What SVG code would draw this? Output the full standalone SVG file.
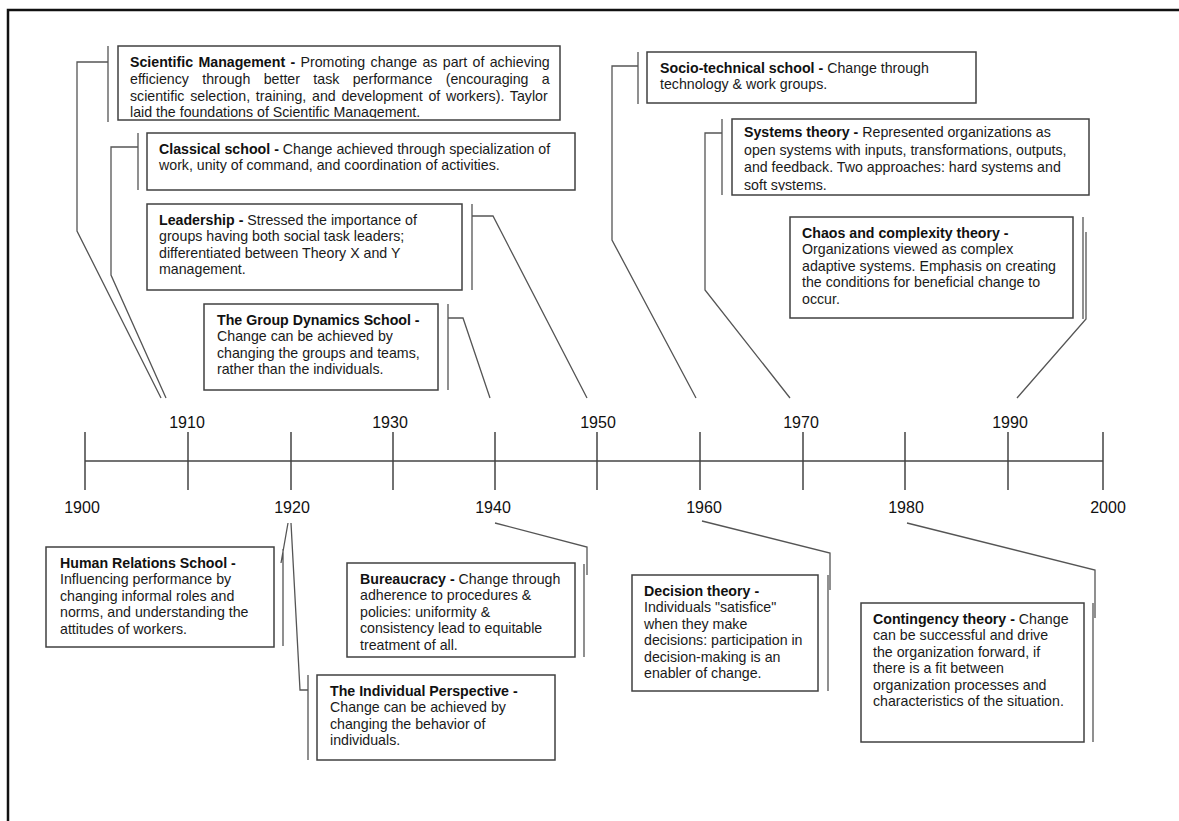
<svg xmlns="http://www.w3.org/2000/svg" width="1179" height="821" viewBox="0 0 1179 821">
  <style>
    .box{fill:#fff;stroke:#404040;stroke-width:1.5}
    .t{font-family:"Liberation Sans",Arial,Helvetica,sans-serif;font-size:14.2px;fill:#1a1a1a}
    .b{font-weight:bold;fill:#111}
    .yr{font-family:"Liberation Sans",Arial,Helvetica,sans-serif;font-size:16px;fill:#111;text-anchor:middle}
    .ln{fill:none;stroke:#555;stroke-width:1.3}
    .axis{fill:none;stroke:#444;stroke-width:1.5}
  </style>
  <defs>
    <clipPath id="clip-sci" clipPathUnits="userSpaceOnUse"><rect x="118" y="46" width="442" height="72"/></clipPath>
    <clipPath id="clip-sys" clipPathUnits="userSpaceOnUse"><rect x="732" y="119" width="357" height="71.5"/></clipPath>
  </defs>

  <rect width="1179" height="821" fill="#fff"/>
  <!-- page frame -->
  <path d="M8,821 V10 H1179" fill="none" stroke="#111" stroke-width="2.5"/>

  <!-- timeline axis -->
  <g id="timeline">
    <path class="axis" d="M85,461 H1103"/>
    <path class="axis" d="M85,432 V490 M188,432 V490 M291,432 V490 M393,432 V490 M495,432 V490 M597,432 V490 M700,432 V490 M803,432 V490 M905,432 V490 M1008,432 V490 M1103,432 V490"/>
    <text class="yr" x="187" y="428">1910</text>
    <text class="yr" x="390" y="428">1930</text>
    <text class="yr" x="598" y="428">1950</text>
    <text class="yr" x="801" y="428">1970</text>
    <text class="yr" x="1010" y="428">1990</text>
    <text class="yr" x="82" y="513">1900</text>
    <text class="yr" x="292" y="513">1920</text>
    <text class="yr" x="493" y="513">1940</text>
    <text class="yr" x="704" y="513">1960</text>
    <text class="yr" x="906" y="513">1980</text>
    <text class="yr" x="1108" y="513">2000</text>
  </g>

  <!-- brackets and leader lines -->
  <g id="connectors">
    <path class="ln" d="M108,46 V122 M108,62 H77 V231 L161,398"/>
    <path class="ln" d="M138,133 V190 M138,147 H111 V275 L166,398"/>
    <path class="ln" d="M472,204 V290 M472,216 H493 L587,398"/>
    <path class="ln" d="M448,304 V390 M448,318 H463 L490,398"/>
    <path class="ln" d="M638,52 V104 M638,66 H612 V240 L696,398"/>
    <path class="ln" d="M722,119 V195 M722,133 H705 V290 L790,398"/>
    <path class="ln" d="M1083,217 V319 M1086,232 V319 L1017,398"/>
    <path class="ln" d="M283,549 V646 M281,563 L288,523"/>
    <path class="ln" d="M308,675 V760 M291,523 L300,690 H308"/>
    <path class="ln" d="M584,564 V657 M495,523 L587,547 V575"/>
    <path class="ln" d="M828,575 V691 M702,521 L830,553 V590"/>
    <path class="ln" d="M1093,603 V742 M907,523 L1095,570 V618"/>
  </g>

  <g id="scientific-management">
    <rect class="box" x="118" y="46" width="442" height="74"/>
    <g clip-path="url(#clip-sci)">
      <text class="t" x="130" y="67" word-spacing="1.4"><tspan class="b">Scientific Management -</tspan> Promoting change as part of achieving</text>
      <text class="t" x="130" y="83.8" word-spacing="9.4">efficiency through better task performance (encouraging a</text>
      <text class="t" x="130" y="100.6" word-spacing="1.8">scientific selection, training, and development of workers). Taylor</text>
      <text class="t" x="130" y="117.4">laid the foundations of Scientific Management.</text>
    </g>
  </g>

  <g id="classical-school">
    <rect class="box" x="147" y="133" width="428" height="57"/>
    <text class="t" x="159" y="153.5"><tspan class="b">Classical school -</tspan> Change achieved through specialization of</text>
    <text class="t" x="159" y="170">work, unity of command, and coordination of activities.</text>
  </g>

  <g id="leadership">
    <rect class="box" x="147" y="204" width="315" height="86"/>
    <text class="t" x="159" y="224.5"><tspan class="b">Leadership -</tspan> Stressed the importance of</text>
    <text class="t" x="159" y="241">groups having both social task leaders;</text>
    <text class="t" x="159" y="257.5">differentiated between Theory X and Y</text>
    <text class="t" x="159" y="274">management.</text>
  </g>

  <g id="group-dynamics">
    <rect class="box" x="204" y="304" width="234" height="86"/>
    <text class="t b" x="217" y="324.5">The Group Dynamics School -</text>
    <text class="t" x="217" y="341">Change can be achieved by</text>
    <text class="t" x="217" y="357.5">changing the groups and teams,</text>
    <text class="t" x="217" y="374">rather than the individuals.</text>
  </g>

  <g id="socio-technical">
    <rect class="box" x="647" y="52" width="329" height="51"/>
    <text class="t" x="660" y="72.5"><tspan class="b">Socio-technical school -</tspan> Change through</text>
    <text class="t" x="660" y="89">technology &amp; work groups.</text>
  </g>

  <g id="systems-theory">
    <rect class="box" x="732" y="119" width="357" height="76"/>
    <g clip-path="url(#clip-sys)">
      <text class="t" x="744" y="137"><tspan class="b">Systems theory -</tspan> Represented organizations as</text>
      <text class="t" x="744" y="154.5">open systems with inputs, transformations, outputs,</text>
      <text class="t" x="744" y="172">and feedback. Two approaches: hard systems and</text>
      <text class="t" x="744" y="189.5">soft systems.</text>
    </g>
  </g>

  <g id="chaos-complexity">
    <rect class="box" x="790" y="217" width="283" height="101"/>
    <text class="t b" x="802" y="237.5">Chaos and complexity theory -</text>
    <text class="t" x="802" y="254">Organizations viewed as complex</text>
    <text class="t" x="802" y="270.5">adaptive systems. Emphasis on creating</text>
    <text class="t" x="802" y="287">the conditions for beneficial change to</text>
    <text class="t" x="802" y="303.5">occur.</text>
  </g>

  <g id="human-relations">
    <rect class="box" x="46" y="547" width="228" height="100"/>
    <text class="t b" x="60" y="567.5">Human Relations School -</text>
    <text class="t" x="60" y="584">Influencing performance by</text>
    <text class="t" x="60" y="600.5">changing informal roles and</text>
    <text class="t" x="60" y="617">norms, and understanding the</text>
    <text class="t" x="60" y="633.5">attitudes of workers.</text>
  </g>

  <g id="bureaucracy">
    <rect class="box" x="347" y="563" width="228" height="94"/>
    <text class="t" x="360" y="583.5"><tspan class="b">Bureaucracy -</tspan> Change through</text>
    <text class="t" x="360" y="600">adherence to procedures &amp;</text>
    <text class="t" x="360" y="616.5">policies: uniformity &amp;</text>
    <text class="t" x="360" y="633">consistency lead to equitable</text>
    <text class="t" x="360" y="649.5">treatment of all.</text>
  </g>

  <g id="individual-perspective">
    <rect class="box" x="317" y="675" width="238" height="85"/>
    <text class="t b" x="330" y="695.5">The Individual Perspective -</text>
    <text class="t" x="330" y="712">Change can be achieved by</text>
    <text class="t" x="330" y="728.5">changing the behavior of</text>
    <text class="t" x="330" y="745">individuals.</text>
  </g>

  <g id="decision-theory">
    <rect class="box" x="632" y="575" width="186" height="116"/>
    <text class="t b" x="644" y="595.5">Decision theory -</text>
    <text class="t" x="644" y="612">Individuals "satisfice"</text>
    <text class="t" x="644" y="628.5">when they make</text>
    <text class="t" x="644" y="645">decisions: participation in</text>
    <text class="t" x="644" y="661.5">decision-making is an</text>
    <text class="t" x="644" y="678">enabler of change.</text>
  </g>

  <g id="contingency-theory">
    <rect class="box" x="861" y="603" width="223" height="139"/>
    <text class="t" x="873" y="623.5"><tspan class="b">Contingency theory -</tspan> Change</text>
    <text class="t" x="873" y="640">can be successful and drive</text>
    <text class="t" x="873" y="656.5">the organization forward, if</text>
    <text class="t" x="873" y="673">there is a fit between</text>
    <text class="t" x="873" y="689.5">organization processes and</text>
    <text class="t" x="873" y="706">characteristics of the situation.</text>
  </g>
</svg>
